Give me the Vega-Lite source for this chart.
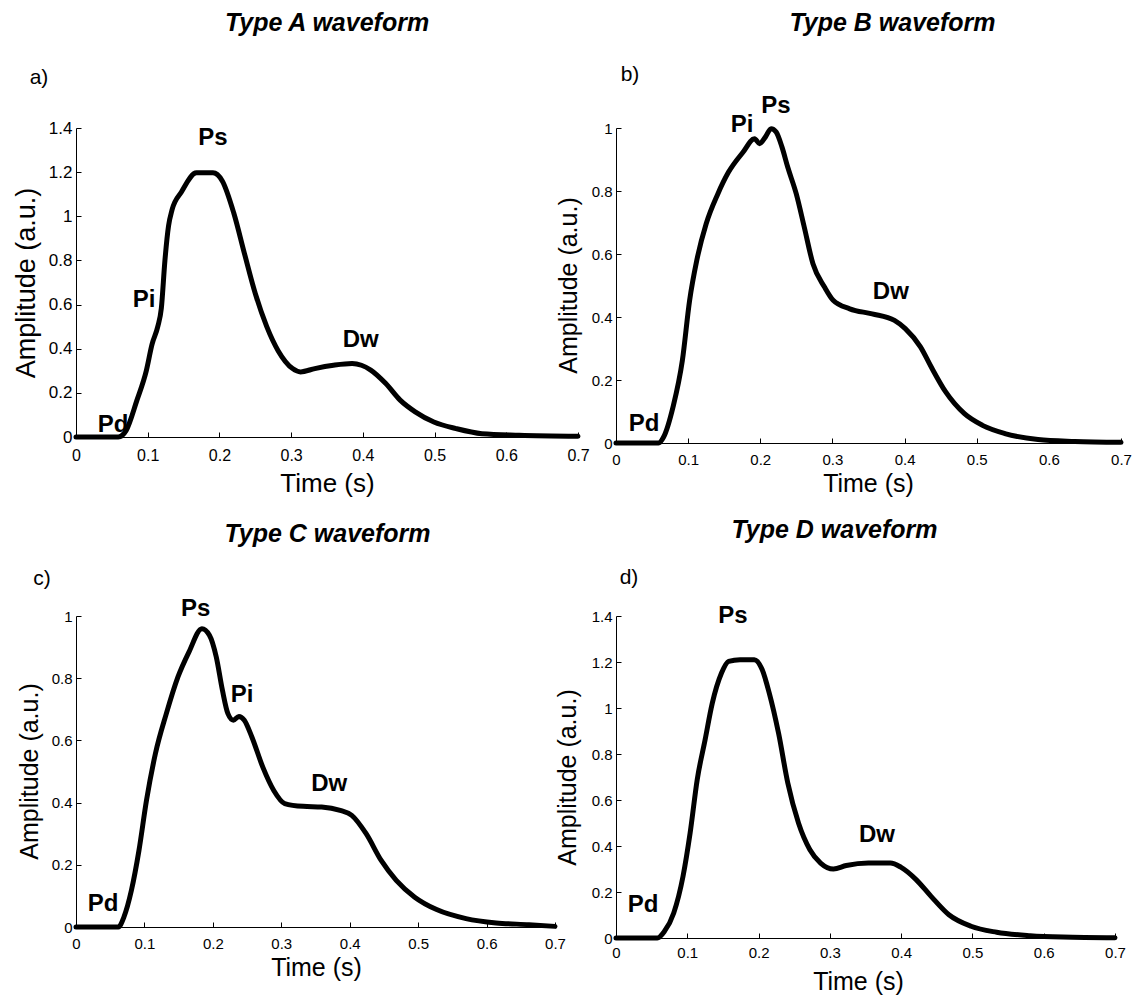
{
  "$schema": "https://vega.github.io/schema/vega-lite/v6.json",
  "autosize": {"type": "none"},
  "padding": {"left": 76, "top": 128, "right": 1060, "bottom": 867},
  "background": "white",
  "config": {
    "view": {"stroke": null},
    "axis": {"domainColor": "black", "tickColor": "black", "labelColor": "black", "titleColor": "black", "labelFont": "Liberation Sans", "titleFont": "Liberation Sans", "titleFontWeight": "normal", "grid": false, "tickSize": -5, "labelFlush": false, "labelOverlap": false, "labelBound": false, "labelFontSize": 15, "titleFontSize": 25, "domainWidth": 1, "tickWidth": 1},
    "title": {"font": "Liberation Sans", "fontSize": 25, "fontWeight": "bold", "fontStyle": "italic", "color": "black", "anchor": "middle"},
    "text": {"font": "Liberation Sans", "color": "black"}
  },
  "datasets": {
    "curveA": [{"t":0,"amp":0},{"t":0.059,"amp":0},{"t":0.07,"amp":0.03},{"t":0.085,"amp":0.167},{"t":0.098,"amp":0.30},{"t":0.106,"amp":0.42},{"t":0.114,"amp":0.50},{"t":0.119,"amp":0.583},{"t":0.124,"amp":0.80},{"t":0.129,"amp":0.955},{"t":0.134,"amp":1.03},{"t":0.147,"amp":1.11},{"t":0.168,"amp":1.197},{"t":0.191,"amp":1.197},{"t":0.204,"amp":1.16},{"t":0.22,"amp":1.015},{"t":0.235,"amp":0.83},{"t":0.25,"amp":0.65},{"t":0.266,"amp":0.50},{"t":0.282,"amp":0.39},{"t":0.302,"amp":0.31},{"t":0.313,"amp":0.295},{"t":0.333,"amp":0.31},{"t":0.359,"amp":0.325},{"t":0.385,"amp":0.333},{"t":0.398,"amp":0.325},{"t":0.411,"amp":0.303},{"t":0.432,"amp":0.242},{"t":0.452,"amp":0.167},{"t":0.473,"amp":0.114},{"t":0.499,"amp":0.068},{"t":0.53,"amp":0.038},{"t":0.566,"amp":0.015},{"t":0.618,"amp":0.008},{"t":0.70,"amp":0.003}],
    "curveB": [{"t":0,"amp":0},{"t":0.059,"amp":0},{"t":0.066,"amp":0.019},{"t":0.079,"amp":0.114},{"t":0.092,"amp":0.262},{"t":0.102,"amp":0.452},{"t":0.112,"amp":0.58},{"t":0.125,"amp":0.696},{"t":0.141,"amp":0.79},{"t":0.156,"amp":0.86},{"t":0.176,"amp":0.923},{"t":0.192,"amp":0.966},{"t":0.199,"amp":0.95},{"t":0.207,"amp":0.971},{"t":0.215,"amp":0.998},{"t":0.222,"amp":0.987},{"t":0.23,"amp":0.94},{"t":0.238,"amp":0.876},{"t":0.25,"amp":0.79},{"t":0.261,"amp":0.685},{"t":0.273,"amp":0.569},{"t":0.289,"amp":0.495},{"t":0.301,"amp":0.453},{"t":0.324,"amp":0.426},{"t":0.355,"amp":0.41},{"t":0.386,"amp":0.389},{"t":0.401,"amp":0.363},{"t":0.422,"amp":0.305},{"t":0.437,"amp":0.241},{"t":0.457,"amp":0.162},{"t":0.483,"amp":0.093},{"t":0.508,"amp":0.056},{"t":0.539,"amp":0.03},{"t":0.585,"amp":0.011},{"t":0.636,"amp":0.005},{"t":0.70,"amp":0.002}],
    "curveC": [{"t":0,"amp":0},{"t":0.062,"amp":0},{"t":0.07,"amp":0.032},{"t":0.081,"amp":0.118},{"t":0.092,"amp":0.246},{"t":0.103,"amp":0.407},{"t":0.116,"amp":0.557},{"t":0.132,"amp":0.686},{"t":0.149,"amp":0.804},{"t":0.165,"amp":0.884},{"t":0.184,"amp":0.959},{"t":0.195,"amp":0.938},{"t":0.205,"amp":0.868},{"t":0.214,"amp":0.761},{"t":0.222,"amp":0.686},{"t":0.23,"amp":0.665},{"t":0.238,"amp":0.677},{"t":0.246,"amp":0.665},{"t":0.257,"amp":0.611},{"t":0.273,"amp":0.514},{"t":0.289,"amp":0.439},{"t":0.305,"amp":0.397},{"t":0.332,"amp":0.388},{"t":0.359,"amp":0.386},{"t":0.386,"amp":0.375},{"t":0.403,"amp":0.359},{"t":0.424,"amp":0.30},{"t":0.446,"amp":0.214},{"t":0.468,"amp":0.15},{"t":0.495,"amp":0.096},{"t":0.527,"amp":0.056},{"t":0.57,"amp":0.027},{"t":0.614,"amp":0.013},{"t":0.662,"amp":0.0075},{"t":0.70,"amp":0.002}],
    "curveD": [{"t":0,"amp":0},{"t":0.058,"amp":0},{"t":0.068,"amp":0.029},{"t":0.081,"amp":0.109},{"t":0.094,"amp":0.268},{"t":0.104,"amp":0.457},{"t":0.114,"amp":0.69},{"t":0.125,"amp":0.862},{"t":0.135,"amp":1.02},{"t":0.148,"amp":1.152},{"t":0.158,"amp":1.203},{"t":0.174,"amp":1.21},{"t":0.194,"amp":1.21},{"t":0.205,"amp":1.167},{"t":0.215,"amp":1.065},{"t":0.228,"amp":0.891},{"t":0.241,"amp":0.674},{"t":0.256,"amp":0.50},{"t":0.272,"amp":0.384},{"t":0.287,"amp":0.326},{"t":0.305,"amp":0.30},{"t":0.323,"amp":0.315},{"t":0.354,"amp":0.326},{"t":0.385,"amp":0.326},{"t":0.40,"amp":0.307},{"t":0.421,"amp":0.254},{"t":0.442,"amp":0.181},{"t":0.467,"amp":0.101},{"t":0.498,"amp":0.051},{"t":0.534,"amp":0.025},{"t":0.581,"amp":0.01},{"t":0.627,"amp":0.004},{"t":0.70,"amp":0.001}],
    "labA": [{"t":0.191,"amp":1.355,"label":"Ps"},{"t":0.0948,"amp":0.621,"label":"Pi"},{"t":0.397,"amp":0.44,"label":"Dw"},{"t":0.0516,"amp":0.054,"label":"Pd"}],
    "labB": [{"t":0.1747,"amp":1.01,"label":"Pi"},{"t":0.2218,"amp":1.07,"label":"Ps"},{"t":0.381,"amp":0.479,"label":"Dw"},{"t":0.0388,"amp":0.06,"label":"Pd"}],
    "labC": [{"t":0.175,"amp":1.022,"label":"Ps"},{"t":0.2426,"amp":0.746,"label":"Pi"},{"t":0.37,"amp":0.46,"label":"Dw"},{"t":0.0395,"amp":0.074,"label":"Pd"}],
    "labD": [{"t":0.164,"amp":1.40,"label":"Ps"},{"t":0.366,"amp":0.448,"label":"Dw"},{"t":0.0379,"amp":0.1435,"label":"Pd"}],
    "letA": [{"t":-0.0516,"amp":1.626,"label":"a)"}],
    "letB": [{"t":0.0194,"amp":1.168,"label":"b)"}],
    "letC": [{"t":-0.0497,"amp":1.119,"label":"c)"}],
    "letD": [{"t":0.0182,"amp":1.565,"label":"d)"}]
  },
  "columns": 2,
  "spacing": {"row": 173, "column": 38},
  "bounds": "flush",
  "concat": [
    {
      "width": 502, "height": 309,
      "title": {"text": "Type A waveform", "offset": 31, "frame": "group"},
      "layer": [
        {"data": {"name": "letA"}, "mark": {"type": "text", "fontSize": 21, "baseline": "middle", "align": "center"},
         "encoding": {"x": {"field": "t", "type": "quantitative"}, "y": {"field": "amp", "type": "quantitative"}, "text": {"field": "label"}}},
        {"data": {"name": "labA"}, "mark": {"type": "text", "fontSize": 24, "fontWeight": "bold", "baseline": "middle", "align": "center"},
         "encoding": {"x": {"field": "t", "type": "quantitative"}, "y": {"field": "amp", "type": "quantitative"}, "text": {"field": "label"}}},
        {"data": {"name": "curveA"}, "mark": {"type": "line", "color": "black", "strokeWidth": 5, "interpolate": "monotone", "strokeJoin": "round", "strokeCap": "round"},
         "encoding": {
           "x": {"field": "t", "type": "quantitative", "scale": {"domain": [0, 0.7], "nice": false, "zero": false}, "axis": {"values": [0,0.1,0.2,0.3,0.4,0.5,0.6,0.7], "format": "~g", "title": "Time (s)", "labelPadding": 15, "titleBaseline": "middle", "titleY": 46, "titleX": 251, "labelFontSize": 16, "titleFontSize": 26}},
           "y": {"field": "amp", "type": "quantitative", "scale": {"domain": [0, 1.4], "nice": false}, "axis": {"values": [0,0.2,0.4,0.6,0.8,1,1.2,1.4], "format": "~g", "title": "Amplitude (a.u.)", "labelPadding": 9, "titleBaseline": "middle", "titleX": -50, "titleY": 154.5, "titleFontSize": 27, "labelFontSize": 17}}
         }}
      ]
    },
    {
      "width": 505, "height": 315,
      "title": {"text": "Type B waveform", "offset": 28, "dx": 24, "frame": "group"},
      "layer": [
        {"data": {"name": "letB"}, "mark": {"type": "text", "fontSize": 21, "baseline": "middle", "align": "center"},
         "encoding": {"x": {"field": "t", "type": "quantitative"}, "y": {"field": "amp", "type": "quantitative"}, "text": {"field": "label"}}},
        {"data": {"name": "labB"}, "mark": {"type": "text", "fontSize": 24, "fontWeight": "bold", "baseline": "middle", "align": "center"},
         "encoding": {"x": {"field": "t", "type": "quantitative"}, "y": {"field": "amp", "type": "quantitative"}, "text": {"field": "label"}}},
        {"data": {"name": "curveB"}, "mark": {"type": "line", "color": "black", "strokeWidth": 5, "interpolate": "monotone", "strokeJoin": "round", "strokeCap": "round"},
         "encoding": {
           "x": {"field": "t", "type": "quantitative", "scale": {"domain": [0, 0.7], "nice": false, "zero": false}, "axis": {"values": [0,0.1,0.2,0.3,0.4,0.5,0.6,0.7], "format": "~g", "title": "Time (s)", "labelPadding": 14, "titleBaseline": "middle", "titleY": 40, "titleX": 252}},
           "y": {"field": "amp", "type": "quantitative", "scale": {"domain": [0, 1], "nice": false}, "axis": {"values": [0,0.2,0.4,0.6,0.8,1], "format": "~g", "title": "Amplitude (a.u.)", "labelPadding": 9, "titleBaseline": "middle", "titleX": -48, "titleY": 157, "titleFontSize": 25}}
         }}
      ]
    },
    {
      "width": 479, "height": 311,
      "title": {"text": "Type C waveform", "offset": 21, "dx": 12, "frame": "group"},
      "layer": [
        {"data": {"name": "letC"}, "mark": {"type": "text", "fontSize": 21, "baseline": "middle", "align": "center"},
         "encoding": {"x": {"field": "t", "type": "quantitative"}, "y": {"field": "amp", "type": "quantitative"}, "text": {"field": "label"}}},
        {"data": {"name": "labC"}, "mark": {"type": "text", "fontSize": 24, "fontWeight": "bold", "baseline": "middle", "align": "center"},
         "encoding": {"x": {"field": "t", "type": "quantitative"}, "y": {"field": "amp", "type": "quantitative"}, "text": {"field": "label"}}},
        {"data": {"name": "curveC"}, "mark": {"type": "line", "color": "black", "strokeWidth": 5, "interpolate": "monotone", "strokeJoin": "round", "strokeCap": "round"},
         "encoding": {
           "x": {"field": "t", "type": "quantitative", "scale": {"domain": [0, 0.7], "nice": false, "zero": false}, "axis": {"values": [0,0.1,0.2,0.3,0.4,0.5,0.6,0.7], "format": "~g", "title": "Time (s)", "labelPadding": 14, "titleBaseline": "middle", "titleY": 40, "titleX": 240}},
           "y": {"field": "amp", "type": "quantitative", "scale": {"domain": [0, 1], "nice": false}, "axis": {"values": [0,0.2,0.4,0.6,0.8,1], "format": "~g", "title": "Amplitude (a.u.)", "labelPadding": 9, "titleBaseline": "middle", "titleX": -47, "titleY": 155, "titleFontSize": 25}}
         }}
      ]
    },
    {
      "width": 499, "height": 322,
      "title": {"text": "Type D waveform", "offset": 24, "dx": -31, "frame": "group"},
      "layer": [
        {"data": {"name": "letD"}, "mark": {"type": "text", "fontSize": 21, "baseline": "middle", "align": "center"},
         "encoding": {"x": {"field": "t", "type": "quantitative"}, "y": {"field": "amp", "type": "quantitative"}, "text": {"field": "label"}}},
        {"data": {"name": "labD"}, "mark": {"type": "text", "fontSize": 24, "fontWeight": "bold", "baseline": "middle", "align": "center"},
         "encoding": {"x": {"field": "t", "type": "quantitative"}, "y": {"field": "amp", "type": "quantitative"}, "text": {"field": "label"}}},
        {"data": {"name": "curveD"}, "mark": {"type": "line", "color": "black", "strokeWidth": 5, "interpolate": "monotone", "strokeJoin": "round", "strokeCap": "round"},
         "encoding": {
           "x": {"field": "t", "type": "quantitative", "scale": {"domain": [0, 0.7], "nice": false, "zero": false}, "axis": {"values": [0,0.1,0.2,0.3,0.4,0.5,0.6,0.7], "format": "~g", "title": "Time (s)", "labelPadding": 12, "titleBaseline": "middle", "titleY": 43, "titleX": 242}},
           "y": {"field": "amp", "type": "quantitative", "scale": {"domain": [0, 1.4], "nice": false}, "axis": {"values": [0,0.2,0.4,0.6,0.8,1,1.2,1.4], "format": "~g", "title": "Amplitude (a.u.)", "labelPadding": 9, "titleBaseline": "middle", "titleX": -49, "titleY": 161, "titleFontSize": 25}}
         }}
      ]
    }
  ]
}
